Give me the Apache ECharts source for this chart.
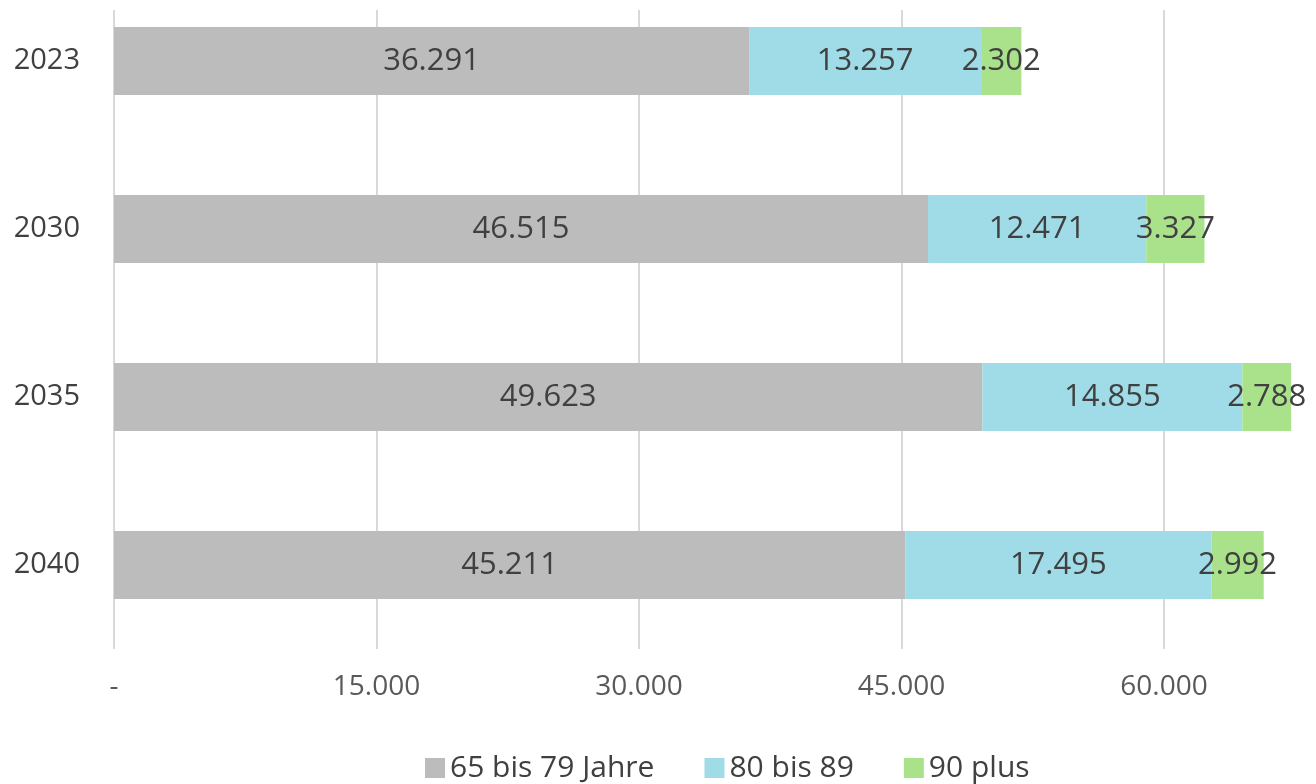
<!DOCTYPE html>
<html>
<head>
<meta charset="utf-8">
<script src="https://cdn.jsdelivr.net/npm/echarts@6/dist/echarts.min.js"></script>
<style>
  html, body { margin: 0; padding: 0; background: #fff; }
  #chart { width: 1316px; height: 784px; }
</style>
</head>
<body>
<div id="chart"></div>
<script>
// Daten
const years = ['2023', '2030', '2035', '2040']
const seriesNames = ['65 bis 79 Jahre', '80 bis 89', '90 plus']
const age65to79 = [36291, 46515, 49623, 45211]
const age80to89 = [13257, 12471, 14855, 17495]
const age90plus = [2302, 3327, 2788, 2992]
const xTicks = [0, 15000, 30000, 45000, 60000]

const colors = ['#bcbcbc', '#a0dce8', '#a9e28a']
const fontFamily = '"Open Sans", "Noto Sans", sans-serif'

// Tausenderpunkt
const fmt = v => v === 0 ? '-' : String(v).replace(/\B(?=(\d{3})+(?!\d))/g, '.')

const chart = echarts.init(document.getElementById('chart'))

const makeSeries = (name, data, i) => ({
  name,
  type: 'bar',
  stack: 'total',
  barWidth: 68,
  data,
  itemStyle: { color: colors[i] },
  label: {
    show: true,
    position: 'inside',
    color: '#404040',
    fontSize: 31,
    fontFamily,
    formatter: p => fmt(p.value)
  }
})

const option = {
  animation: false,
  backgroundColor: '#fff',
  grid: {
    left: 114,
    top: -23,
    width: 1312.5,
    height: 672,
    outerBoundsMode: 'none',
    containLabel: false
  },
  legend: {
    data: seriesNames,
    bottom: -4,
    left: 420,
    itemWidth: 20,
    itemHeight: 20,
    itemGap: 50,
    icon: 'rect',
    textStyle: { color: '#404040', fontSize: 30, fontFamily }
  },
  xAxis: {
    type: 'value',
    min: 0,
    max: 75000,
    interval: 15000,
    axisLine: { show: false },
    axisTick: { show: false },
    axisLabel: {
      color: '#595959',
      fontSize: 28,
      fontFamily,
      margin: 24,
      formatter: v => xTicks.includes(v) ? fmt(v) : ''
    },
    splitLine: { lineStyle: { color: '#d9d9d9', width: 2 } }
  },
  yAxis: {
    type: 'category',
    inverse: true,
    data: years,
    axisLine: { show: false },
    axisTick: { show: false },
    axisLabel: {
      color: '#404040',
      fontSize: 29,
      fontFamily,
      margin: 34
    }
  },
  graphic: [{
    type: 'rect',
    shape: { x: 0, y: 0, width: 1316, height: 10 },
    style: { fill: '#fff' },
    z: 1
  }],
  series: [
    makeSeries(seriesNames[0], age65to79, 0),
    makeSeries(seriesNames[1], age80to89, 1),
    makeSeries(seriesNames[2], age90plus, 2)
  ]
}

chart.setOption(option)
</script>
</body>
</html>
